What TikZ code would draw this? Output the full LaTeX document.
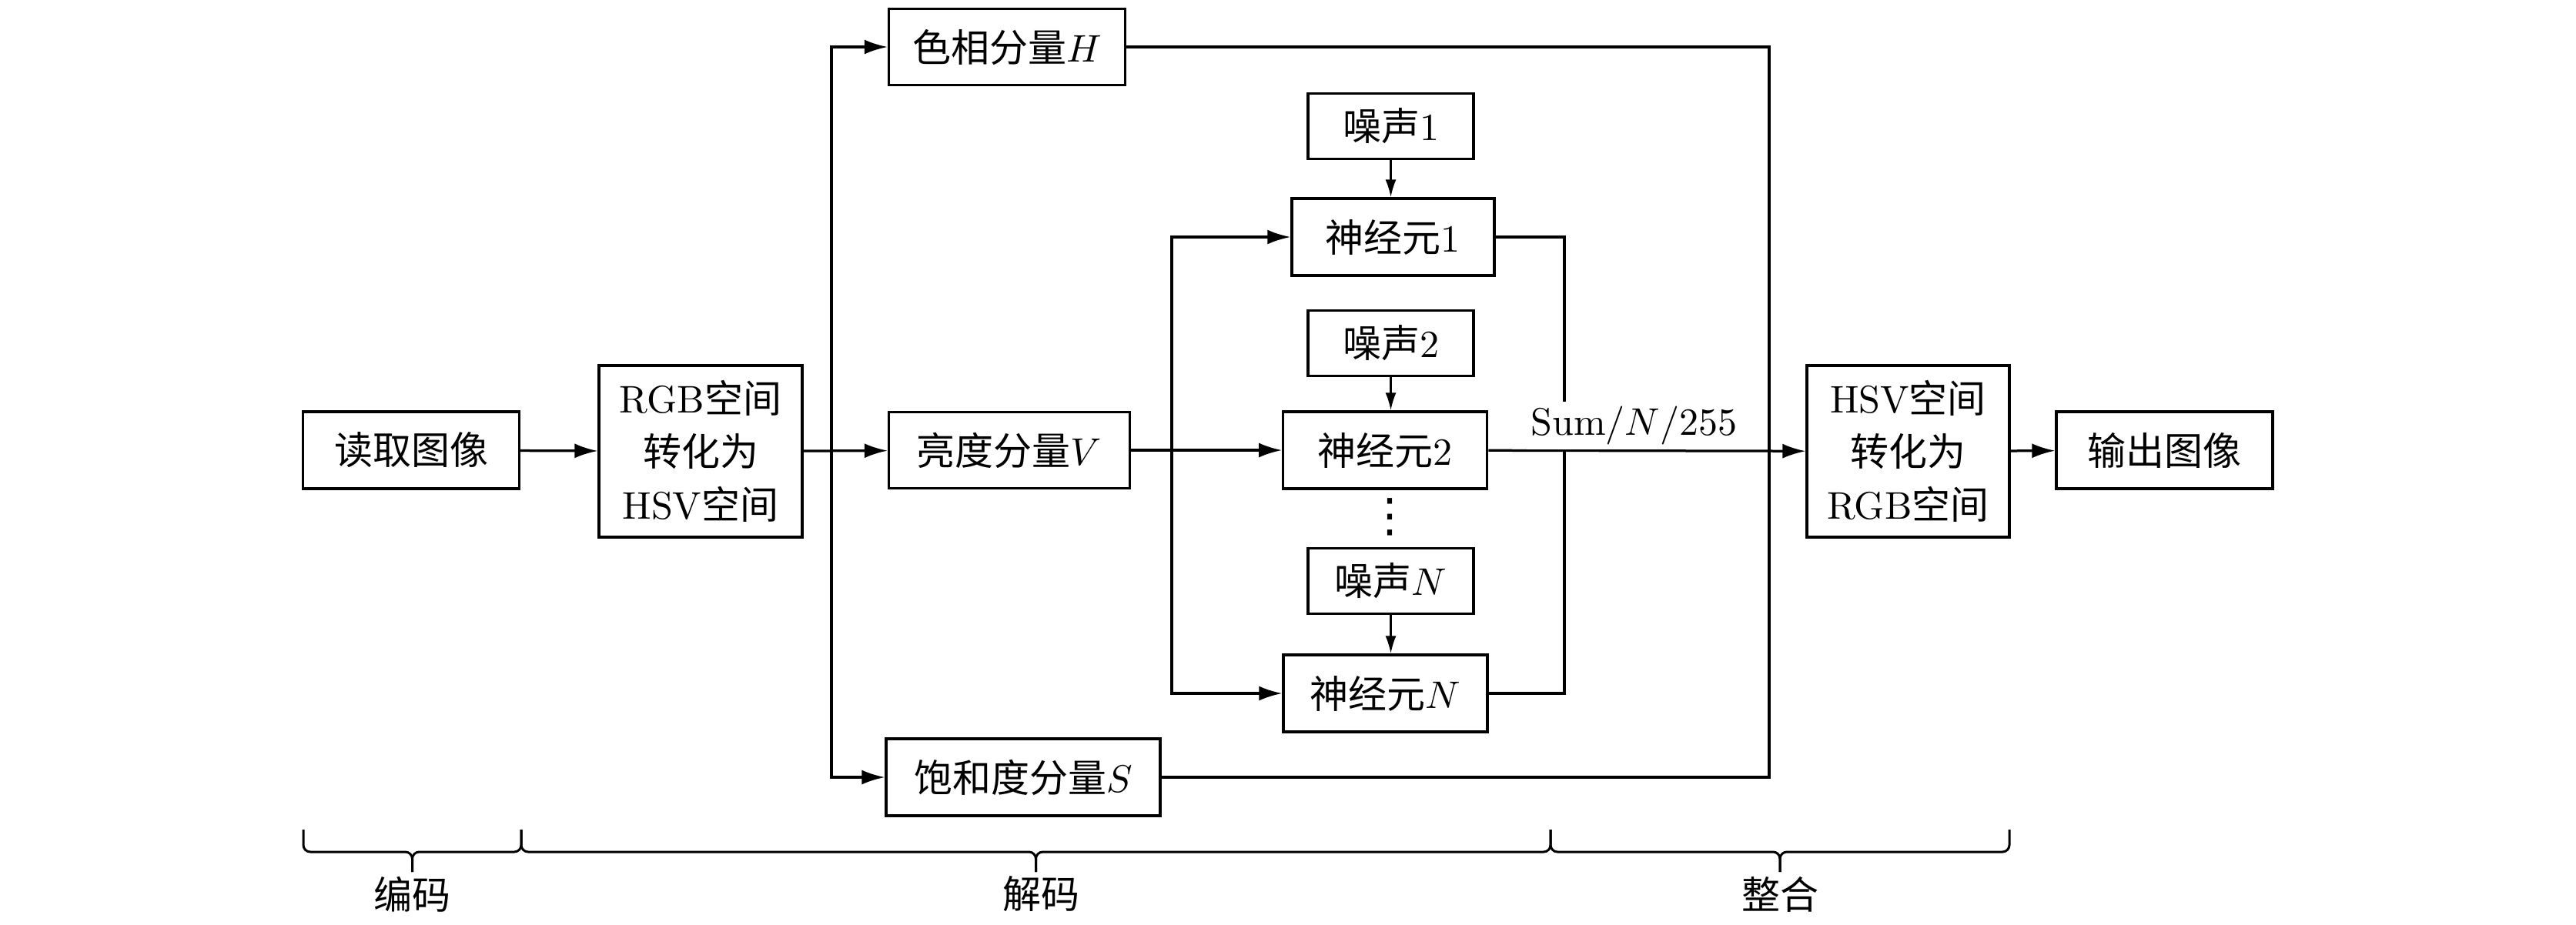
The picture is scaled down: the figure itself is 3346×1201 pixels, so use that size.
\documentclass[tikz,border=0pt]{standalone}
\usepackage{fontspec}
\newfontfamily\cjk{Noto Sans CJK SC}
\newfontfamily\dejavu{DejaVu Sans}
\usetikzlibrary{arrows.meta,calc}
\begin{document}
\begin{tikzpicture}[x=0.2pt,y=-0.2pt,
  box/.style={draw, line width=0.65pt, inner sep=0pt, align=center,
    font={\fontsize{10pt}{13.8pt}\selectfont}},
  arr/.style={-{Latex[length=6pt,width=3.8pt]}, line width=0.65pt},
  narr/.style={-{Latex[length=4.6pt,width=2.8pt]}, line width=0.5pt},
  ln/.style={line width=0.65pt},
  brc/.style={line width=0.6pt, rounded corners=1.8pt},
  lab/.style={font={\fontsize{10pt}{12pt}\selectfont}}]
\useasboundingbox (0,0) rectangle (3346,1201);
% main row
\node[box, minimum width=56.2pt, minimum height=20pt] (read) at (534,585) {\cjk 读取图像};
\node[box, minimum width=52.8pt, minimum height=44.6pt] (rgb) at (910,586.5) {RGB{\cjk 空间}\\{\cjk 转化为}\\HSV{\cjk 空间}};
\node[box, minimum width=61.4pt, minimum height=19.8pt] (H) at (1308,61) {{\cjk 色相分量}$H$};
\node[box, minimum width=62.6pt, minimum height=19.8pt] (V) at (1311,585) {{\cjk 亮度分量}$V$};
\node[box, minimum width=71.2pt, minimum height=20pt] (S) at (1329,1010) {{\cjk 饱和度分量}$S$};
% noise and neurons
\node[box, minimum width=43pt, minimum height=17pt] (z1) at (1806.5,164) {{\cjk 噪声}1};
\node[box, minimum width=52.6pt, minimum height=20pt] (n1) at (1809.4,308) {{\cjk 神经元}1};
\node[box, minimum width=43pt, minimum height=17pt] (z2) at (1806.5,446) {{\cjk 噪声}2};
\node[box, minimum width=53pt, minimum height=20pt] (n2) at (1799.3,585) {{\cjk 神经元}2};
\node[inner sep=0pt, font={\dejavu\fontsize{12pt}{12pt}\selectfont}] (dots) at (1805,672) {⋮};
\node[box, minimum width=43pt, minimum height=17pt] (zN) at (1806.5,755) {{\cjk 噪声}$N$};
\node[box, minimum width=53pt, minimum height=20pt] (nN) at (1799.5,901) {{\cjk 神经元}$N$};
% right side
\node[box, minimum width=52.6pt, minimum height=44.6pt] (hsv) at (2478.5,586.5) {HSV{\cjk 空间}\\{\cjk 转化为}\\RGB{\cjk 空间}};
\node[box, minimum width=56.2pt, minimum height=20pt] (out) at (2811.5,585) {\cjk 输出图像};
% helper coordinates
\coordinate (b1) at (1080,585);
\coordinate (b2) at (1522,585);
\coordinate (sx) at (2032,585);
\coordinate (fx) at (2298,585);
% connectors
\draw[arr] (read) -- (rgb);
\draw[arr] (rgb) -- (V);
\draw[arr] (b1) |- (H);
\draw[arr] (b1) |- (S);
\draw[arr] (V) -- (n2);
\draw[arr] (b2) |- (n1);
\draw[arr] (b2) |- (nN);
\draw[narr] (z1.south) -- (z1.south |- n1.north);
\draw[narr] (z2.south) -- (z2.south |- n2.north);
\draw[narr] (zN.south) -- (zN.south |- nN.north);
\draw[ln] (n1.east) -- (n1.east -| sx) -- (nN.east -| sx) -- (nN.east);
\draw[ln] (H.east) -- (H.east -| fx) -- (S.east -| fx) -- (S.east);
\draw[arr] (n2) -- node[pos=0.459, above, fill=white, inner sep=1.2pt, lab] (sum) {$\mathrm{Sum}/N/255$} (hsv);
\draw[arr] (hsv) -- (out);
% braces
\coordinate (k0) at (394,1078);
\coordinate (k1) at (677,1078);
\coordinate (k2) at (2014,1078);
\coordinate (k3) at (2610,1078);
\coordinate (m1) at (535.5,1107);
\coordinate (m2) at (1345.5,1107);
\coordinate (m3) at (2312,1107);
\coordinate (t1) at (535.5,1133);
\coordinate (t2) at (1345.5,1133);
\coordinate (t3) at (2312,1133);
\draw[brc] (k0) |- (m1) -- (t1);
\draw[brc] (k1) |- (m1) -- (t1);
\draw[brc] (k1) |- (m2) -- (t2);
\draw[brc] (k2) |- (m2) -- (t2);
\draw[brc] (k2) |- (m3) -- (t3);
\draw[brc] (k3) |- (m3) -- (t3);
\node[lab] (l1) at (535.6,1162) {\cjk 编码};
\node[lab] (l2) at (1352,1162) {\cjk 解码};
\node[lab] (l3) at (2312.7,1162) {\cjk 整合};
\end{tikzpicture}
\end{document}
